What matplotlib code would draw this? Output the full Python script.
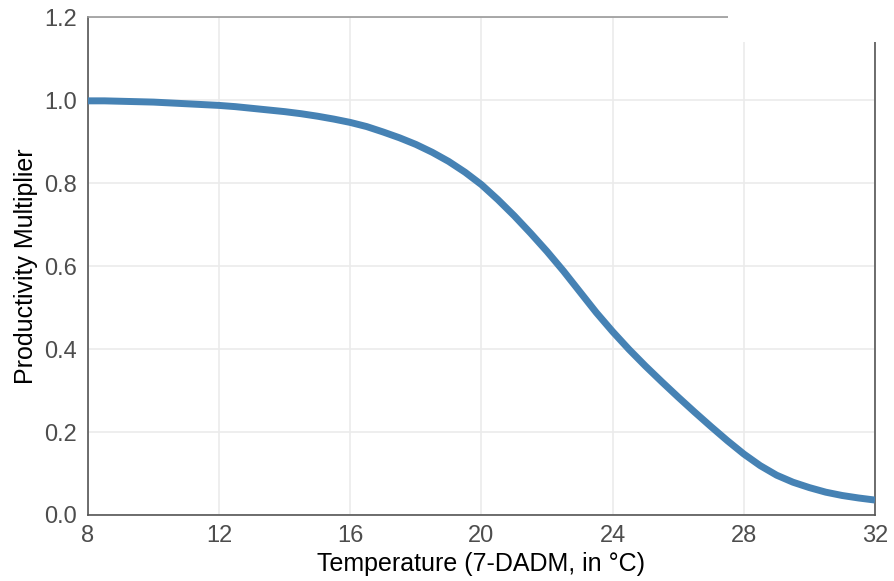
import matplotlib
matplotlib.use("Agg")
import matplotlib.pyplot as plt
from matplotlib.patches import Rectangle

# temperature (7-DADM, degC) and productivity multiplier
temps = [8, 8.5, 9, 9.5, 10, 10.5, 11, 11.5, 12, 12.5, 13, 13.5, 14, 14.5,
         15, 15.5, 16, 16.5, 17, 17.5, 18, 18.5, 19, 19.5, 20, 20.5, 21,
         21.5, 22, 22.5, 23, 23.5, 24, 24.5, 25, 25.5, 26, 26.5, 27, 27.5,
         28, 28.5, 29, 29.5, 30, 30.5, 31, 31.5, 32]
multiplier = [0.998, 0.998, 0.997, 0.996, 0.995, 0.993, 0.991, 0.989, 0.987,
              0.984, 0.980, 0.976, 0.972, 0.967, 0.961, 0.954, 0.946, 0.936,
              0.923, 0.909, 0.893, 0.874, 0.852, 0.826, 0.796, 0.760, 0.721,
              0.679, 0.635, 0.588, 0.538, 0.488, 0.442, 0.399, 0.359, 0.321,
              0.284, 0.248, 0.213, 0.179, 0.147, 0.119, 0.096, 0.079, 0.066,
              0.055, 0.047, 0.041, 0.036]

x_ticks = [8, 12, 16, 20, 24, 28, 32]
y_ticks = [0.0, 0.2, 0.4, 0.6, 0.8, 1.0, 1.2]

plt.rcParams["font.family"] = ["Liberation Sans", "DejaVu Sans"]

fig = plt.figure(figsize=(8.94, 5.81), dpi=100)
ax = fig.add_axes([0.0984, 0.1136, 0.8803, 0.8571])

ax.plot(temps, multiplier, color="#4682b4", linewidth=5,
        solid_capstyle="butt", solid_joinstyle="round", zorder=3)

ax.set_xlim(8, 32)
ax.set_ylim(0, 1.2)
ax.set_xticks(x_ticks)
ax.set_xticklabels([str(t) for t in x_ticks])
ax.set_yticks(y_ticks)
ax.set_yticklabels([f"{v:.1f}" for v in y_ticks])
ax.tick_params(length=0, labelsize=17, labelcolor="#4d4d4d")
ax.tick_params(axis="x", pad=7)
ax.tick_params(axis="y", pad=8)

ax.grid(True, color="#ebebeb", linewidth=1.2, zorder=0)
ax.set_axisbelow(True)
for side in ["left", "bottom", "right"]:
    ax.spines[side].set_color("#555555")
    ax.spines[side].set_linewidth(1.2)
ax.spines["top"].set_color("#999999")
ax.spines["top"].set_linewidth(1.2)

ax.set_xlabel("Temperature (7-DADM, in °C)", fontsize=18, color="black",
              labelpad=4)
ax.set_ylabel("Productivity Multiplier", fontsize=18, color="black",
              labelpad=4)

# blank patch over the top-right corner, as in the original image
fig.patches.append(Rectangle((728 / 894, 1 - 42 / 581), 1, 1,
                             transform=fig.transFigure, facecolor="white",
                             edgecolor="none", zorder=10))

fig.savefig("out.png", dpi=100)
